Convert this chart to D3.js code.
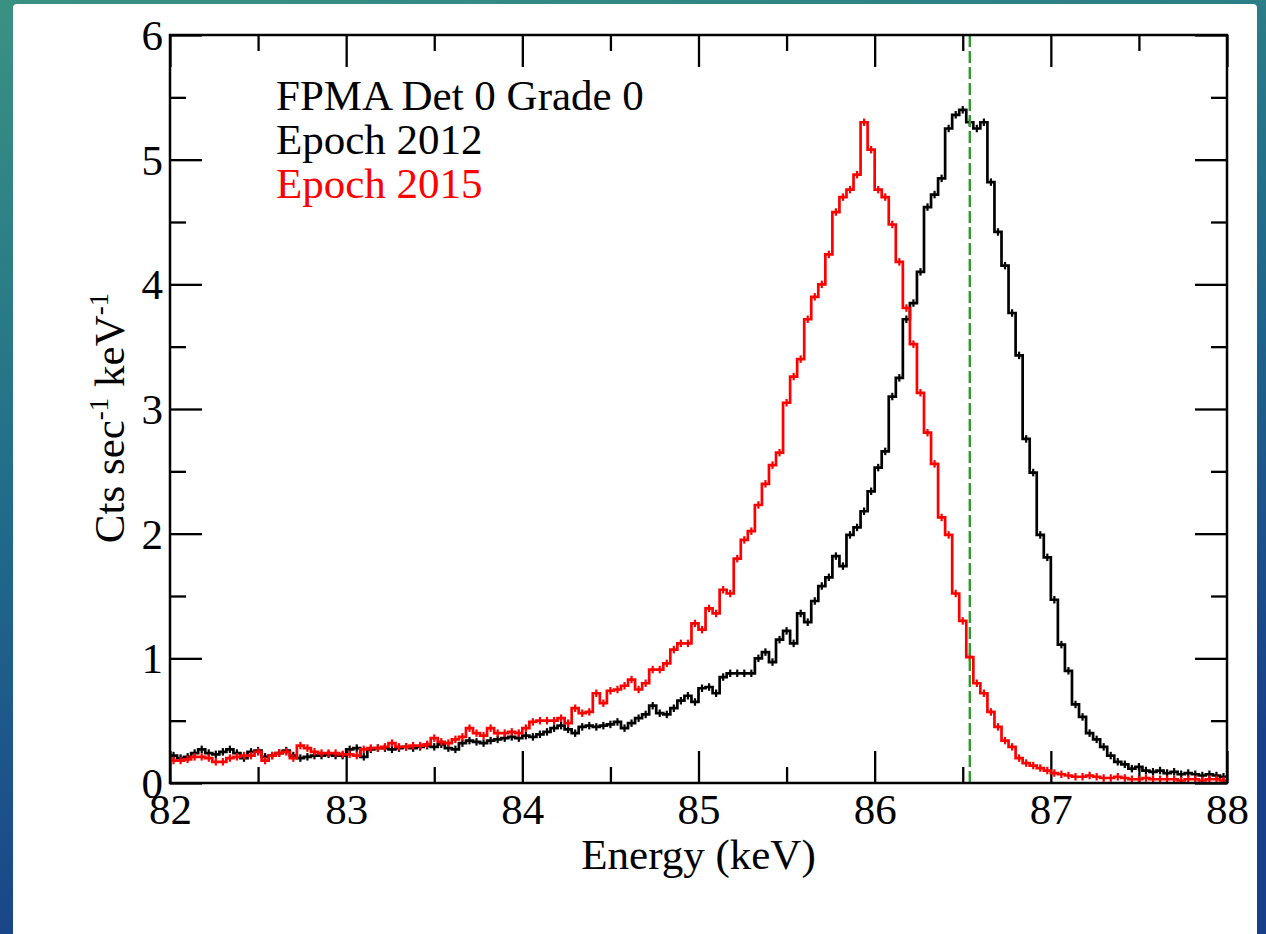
<!DOCTYPE html>
<html>
<head>
<meta charset="utf-8">
<script src="https://cdn.jsdelivr.net/npm/d3@7"></script>
<style>
  html, body { margin: 0; padding: 0; }
  body { width: 1266px; height: 934px; overflow: hidden; }
  svg text { font-family: "Liberation Serif", "Times New Roman", serif; }
</style>
</head>
<body>
<svg id="chart" width="1266" height="934"></svg>
<script>
// ---------------- data ----------------
const binStart = 82.0;          // keV, lower edge of first bin
const binWidth = 0.04;          // keV per channel
const xDomain = [82, 88];
const yDomain = [0, 6];
const xMajorTicks = [82, 83, 84, 85, 86, 87, 88];
const xMinorTicks = [82.5, 83.5, 84.5, 85.5, 86.5, 87.5];
const yMajorTicks = [0, 1, 2, 3, 4, 5, 6];
const yMinorTicks = [0.5, 1.5, 2.5, 3.5, 4.5, 5.5];
const legendLines = ["FPMA Det 0 Grade 0", "Epoch 2012", "Epoch 2015"];
const xTitle = "Energy (keV)";
const lineEnergy = 86.54;       // green dashed reference line
const errorHalf = [0.03, 0.03]; // [2012, 2015]

// Epoch 2012 (black), counts/s/keV, one value per 0.04 keV bin
const epoch2012 = [
  0.22, 0.20, 0.21, 0.24, 0.27, 0.24, 0.23, 0.25, 0.27, 0.24,
  0.20, 0.25, 0.26, 0.21, 0.22, 0.24, 0.26, 0.22, 0.20, 0.21,
  0.22, 0.22, 0.23, 0.22, 0.22, 0.27, 0.28, 0.21, 0.27, 0.28,
  0.28, 0.27, 0.28, 0.29, 0.28, 0.29, 0.30, 0.29, 0.31, 0.28,
  0.27, 0.32, 0.34, 0.33, 0.32, 0.34, 0.35, 0.36, 0.37, 0.36,
  0.38, 0.37, 0.39, 0.41, 0.44, 0.46, 0.43, 0.40, 0.45, 0.46,
  0.45, 0.46, 0.47, 0.49, 0.44, 0.48, 0.52, 0.55, 0.62, 0.56,
  0.55, 0.60, 0.66, 0.70, 0.65, 0.76, 0.77, 0.72, 0.85, 0.88,
  0.88, 0.88, 0.88, 1.00, 1.05, 0.97, 1.15, 1.22, 1.12, 1.36,
  1.29, 1.46, 1.58, 1.65, 1.82, 1.74, 1.99, 2.05, 2.18, 2.34,
  2.53, 2.66, 3.10, 3.25, 3.72, 3.85, 4.10, 4.62, 4.72, 4.85,
  5.25, 5.36, 5.40, 5.30, 5.25, 5.30, 4.82, 4.42, 4.15, 3.77,
  3.43, 2.76, 2.49, 1.99, 1.81, 1.47, 1.11, 0.90, 0.63, 0.53,
  0.40, 0.35, 0.29, 0.22, 0.17, 0.15, 0.115, 0.13, 0.10, 0.09,
  0.10, 0.08, 0.09, 0.07, 0.08, 0.07, 0.06, 0.07, 0.06, 0.05
];

// Epoch 2015 (red)
const epoch2015 = [
  0.18, 0.18, 0.19, 0.21, 0.21, 0.20, 0.17, 0.17, 0.20, 0.21,
  0.22, 0.22, 0.25, 0.18, 0.22, 0.24, 0.25, 0.20, 0.30, 0.28,
  0.25, 0.24, 0.24, 0.24, 0.23, 0.23, 0.22, 0.27, 0.28, 0.28,
  0.29, 0.32, 0.29, 0.29, 0.30, 0.30, 0.31, 0.36, 0.33, 0.32,
  0.35, 0.37, 0.44, 0.40, 0.38, 0.44, 0.40, 0.40, 0.41, 0.40,
  0.44, 0.49, 0.50, 0.50, 0.50, 0.52, 0.48, 0.60, 0.56, 0.57,
  0.72, 0.64, 0.74, 0.75, 0.78, 0.83, 0.75, 0.80, 0.91, 0.91,
  0.96, 1.07, 1.12, 1.12, 1.28, 1.23, 1.40, 1.36, 1.55, 1.52,
  1.80, 1.95, 2.02, 2.23, 2.40, 2.55, 2.65, 3.05, 3.26, 3.40,
  3.72, 3.90, 4.00, 4.24, 4.58, 4.70, 4.76, 4.88, 5.30, 5.08,
  4.76, 4.70, 4.48, 4.18, 3.81, 3.52, 3.13, 2.81, 2.56, 2.13,
  1.99, 1.52, 1.30, 1.01, 0.80, 0.72, 0.57, 0.45, 0.34, 0.29,
  0.20, 0.16, 0.14, 0.12, 0.10, 0.08, 0.07, 0.06, 0.05, 0.05,
  0.06, 0.05, 0.04, 0.04, 0.05, 0.04, 0.03, 0.03, 0.04, 0.03,
  0.03, 0.03, 0.03, 0.02, 0.03, 0.03, 0.02, 0.03, 0.03, 0.02
];

const seriesNames = ["Epoch 2012", "Epoch 2015"];
const seriesColors = ["#000000", "#ff0000"];
const legendColors = ["#000000", "#000000", "#ff0000"];

// ---------------- layout ----------------
const svg = d3.select("#chart");
const W = 1266, H = 934;
const plot = { left: 170, top: 35, right: 1227, bottom: 783 };
const FONT = 43;

// background
const defs = svg.append("defs");
const grad = defs.append("linearGradient").attr("id", "bg")
  .attr("x1", "0%").attr("y1", "0%").attr("x2", "30%").attr("y2", "100%");
grad.append("stop").attr("offset", "0%").attr("stop-color", "#3a9282");
grad.append("stop").attr("offset", "45%").attr("stop-color", "#22708a");
grad.append("stop").attr("offset", "100%").attr("stop-color", "#183f8a");
svg.append("rect").attr("width", W).attr("height", H).attr("fill", "url(#bg)");
svg.append("rect").attr("x", 13).attr("y", 4).attr("width", 1244).attr("height", 940)
  .attr("rx", 4).attr("fill", "#ffffff");

const x = d3.scaleLinear().domain(xDomain).range([plot.left, plot.right]);
const y = d3.scaleLinear().domain(yDomain).range([plot.bottom, plot.top]);

const pw = plot.right - plot.left, ph = plot.bottom - plot.top;
const MAJ = 32, MIN = 16;

function styleAxis(g) {
  g.select(".domain").remove();
  g.selectAll(".tick line").attr("stroke", "#000").attr("stroke-width", 2.3);
  g.selectAll("text").attr("font-size", FONT).attr("fill", "#000")
    .attr("font-family", "Liberation Serif, Times New Roman, serif");
}

// bottom
svg.append("g").attr("transform", `translate(0,${plot.bottom})`)
  .call(d3.axisBottom(x).tickValues(xMajorTicks).tickSize(-MAJ).tickFormat(d3.format("d")))
  .call(styleAxis)
  .call(g => g.selectAll("text").attr("y", 10).attr("dy", "0.71em"));
svg.append("g").attr("transform", `translate(0,${plot.bottom})`)
  .call(d3.axisBottom(x).tickValues(xMinorTicks).tickSize(-MIN).tickFormat(""))
  .call(styleAxis);
// top
svg.append("g").attr("transform", `translate(0,${plot.top})`)
  .call(d3.axisTop(x).tickValues(xMajorTicks).tickSize(-MAJ).tickFormat(""))
  .call(styleAxis);
svg.append("g").attr("transform", `translate(0,${plot.top})`)
  .call(d3.axisTop(x).tickValues(xMinorTicks).tickSize(-MIN).tickFormat(""))
  .call(styleAxis);
// left
svg.append("g").attr("transform", `translate(${plot.left},0)`)
  .call(d3.axisLeft(y).tickValues(yMajorTicks).tickSize(-MAJ).tickFormat(d3.format("d")))
  .call(styleAxis)
  .call(g => g.selectAll("text").attr("x", -7).attr("dy", "0.34em"));
svg.append("g").attr("transform", `translate(${plot.left},0)`)
  .call(d3.axisLeft(y).tickValues(yMinorTicks).tickSize(-MIN).tickFormat(""))
  .call(styleAxis);
// right
svg.append("g").attr("transform", `translate(${plot.right},0)`)
  .call(d3.axisRight(y).tickValues(yMajorTicks).tickSize(-MAJ).tickFormat(""))
  .call(styleAxis);
svg.append("g").attr("transform", `translate(${plot.right},0)`)
  .call(d3.axisRight(y).tickValues(yMinorTicks).tickSize(-MIN).tickFormat(""))
  .call(styleAxis);

// clip for data
defs.append("clipPath").attr("id", "clip").append("rect")
  .attr("x", plot.left).attr("y", plot.top).attr("width", pw).attr("height", ph);

const dataG = svg.append("g").attr("clip-path", "url(#clip)");

const stepLine = d3.line().x(d => x(d[0])).y(d => y(d[1])).curve(d3.curveStepAfter);

[epoch2012, epoch2015].forEach((vals, si) => {
  const pts = vals.map((v, i) => [binStart + i * binWidth, v]);
  pts.push([binStart + vals.length * binWidth, vals[vals.length - 1]]);
  const g = dataG.append("g").attr("class", "series").attr("data-name", seriesNames[si]);
  g.append("path").datum(pts).attr("d", stepLine)
    .attr("fill", "none").attr("stroke", seriesColors[si]).attr("stroke-width", 2.7)
    .attr("stroke-linejoin", "miter");
  g.selectAll("line.err").data(vals).join("line").attr("class", "err")
    .attr("x1", (v, i) => x(binStart + (i + 0.5) * binWidth))
    .attr("x2", (v, i) => x(binStart + (i + 0.5) * binWidth))
    .attr("y1", v => y(v - errorHalf[si]))
    .attr("y2", v => y(v + errorHalf[si]))
    .attr("stroke", seriesColors[si]).attr("stroke-width", 2.2);
});

// green dashed line
svg.append("line")
  .attr("x1", x(lineEnergy)).attr("x2", x(lineEnergy))
  .attr("y1", y(yDomain[0])).attr("y2", y(yDomain[1]))
  .attr("stroke", "#2f9a2f").attr("stroke-width", 2.4).attr("stroke-dasharray", "12,4");

// frame
svg.append("rect").attr("x", plot.left).attr("y", plot.top).attr("width", pw).attr("height", ph)
  .attr("fill", "none").attr("stroke", "#000").attr("stroke-width", 2.5);

// legend
const legendBase = [110, 154, 198];
legendLines.forEach((t, i) => {
  svg.append("text").attr("x", 276).attr("y", legendBase[i])
    .attr("font-size", FONT).attr("fill", legendColors[i]).text(t);
});

// axis titles
svg.append("text").attr("x", (plot.left + plot.right) / 2).attr("y", 869)
  .attr("text-anchor", "middle").attr("font-size", FONT).text(xTitle);

const yt = svg.append("text")
  .attr("transform", `translate(124,${(plot.top + plot.bottom) / 2 + 9}) rotate(-90)`)
  .attr("text-anchor", "middle").attr("font-size", FONT);
yt.append("tspan").text("Cts sec");
yt.append("tspan").attr("font-size", 27).attr("dy", -16).text("-1");
yt.append("tspan").attr("dy", 16).text(" keV");
yt.append("tspan").attr("font-size", 27).attr("dy", -16).text("-1");
</script>
</body>
</html>
